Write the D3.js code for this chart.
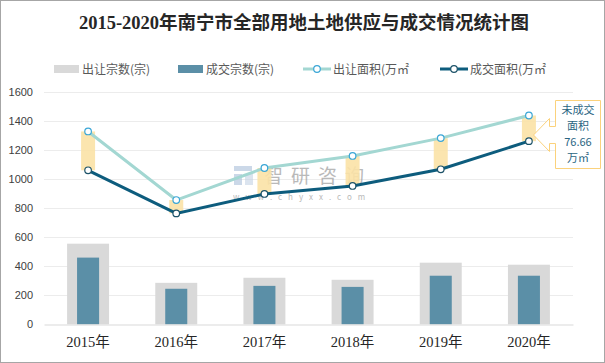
<!DOCTYPE html>
<html>
<head>
<meta charset="utf-8">
<script src="https://cdn.jsdelivr.net/npm/d3@7"></script>
<style>
  html, body { margin: 0; padding: 0; background: #fff; }
  svg { display: block; }
</style>
</head>
<body>
<svg id="chart" width="605" height="363"></svg>
<script>
// data
const years = ['2015年', '2016年', '2017年', '2018年', '2019年', '2020年']
const supplyCount = [556, 286, 321, 307, 425, 411]      // 出让宗数(宗)
const dealCount = [460, 245, 265, 258, 335, 335]        // 成交宗数(宗)
const supplyArea = [1330, 857, 1078, 1161, 1284, 1440]  // 出让面积(万㎡)
const dealArea = [1062, 765, 899, 954, 1069, 1263]      // 成交面积(万㎡)
const yTicks = [0, 200, 400, 600, 800, 1000, 1200, 1400, 1600]
const calloutLines = ['未成交', '面积', '76.66', '万㎡']

const width = 605
const height = 363
const sans = "'Noto Sans CJK SC', 'Liberation Sans', sans-serif"
const serif = "'Liberation Serif', 'DejaVu Serif', 'Noto Sans CJK SC', serif"

const svg = d3.select('#chart')

// outer frame
svg.append('rect')
	.attr('x', 0.5).attr('y', 0.5)
	.attr('width', width - 1).attr('height', height - 1)
	.attr('fill', '#fff')
	.attr('stroke', '#a6a6a6')

svg.append('text')
	.attr('x', 304).attr('y', 29)
	.attr('text-anchor', 'middle')
	.attr('font-family', serif)
	.attr('font-weight', 'bold')
	.attr('font-size', 18.5)
	.attr('fill', '#262626')
	.text('2015-2020年南宁市全部用地土地供应与成交情况统计图')

const x = d3.scaleBand().domain(years).range([44, 573])
const y = d3.scaleLinear().domain([0, 1600]).range([324.3, 92.3])

// grid
svg.append('g')
	.selectAll('line')
	.data(yTicks.slice(1))
	.enter()
	.append('line')
	.attr('x1', 44).attr('x2', 573)
	.attr('y1', d => Math.round(y(d)) + 0.5)
	.attr('y2', d => Math.round(y(d)) + 0.5)
	.attr('stroke', '#ececec')

// y axis labels
const yAxis = svg.append('g')
	.attr('transform', 'translate(44,0)')
	.call(d3.axisLeft(y).tickValues(yTicks).tickFormat(d3.format('d')).tickSize(0).tickPadding(11))
yAxis.select('.domain').remove()
yAxis.selectAll('text')
	.attr('font-family', "'Liberation Sans', sans-serif")
	.attr('font-size', 11)
	.attr('fill', '#404040')

// bars
const bw = x.bandwidth()
svg.append('g')
	.selectAll('rect')
	.data(supplyCount)
	.enter()
	.append('rect')
	.attr('x', (d, i) => x(years[i]) + bw * 0.262)
	.attr('y', d => y(d))
	.attr('width', bw * 0.476)
	.attr('height', d => y(0) - y(d))
	.attr('fill', '#d9d9d9')

svg.append('g')
	.selectAll('rect')
	.data(dealCount)
	.enter()
	.append('rect')
	.attr('x', (d, i) => x(years[i]) + bw * 0.375)
	.attr('y', d => y(d))
	.attr('width', bw * 0.25)
	.attr('height', d => y(0) - y(d))
	.attr('fill', '#5b8fa7')

// x axis
const xAxis = svg.append('g')
	.attr('transform', 'translate(0,324.5)')
	.call(d3.axisBottom(x).tickSize(0).tickPadding(12))
xAxis.select('.domain').attr('stroke', '#d9d9d9')
xAxis.selectAll('text')
	.attr('font-family', serif)
	.attr('font-size', 14.5)
	.attr('fill', '#262626')

// watermark
const wm = svg.append('g').attr('opacity', 0.6)
wm.append('rect').attr('x', 234).attr('y', 166).attr('width', 18).attr('height', 5).attr('fill', '#a9bfd9')
wm.append('rect').attr('x', 234).attr('y', 174).attr('width', 8).attr('height', 11).attr('fill', '#a9bfd9')
wm.append('rect').attr('x', 245).attr('y', 174).attr('width', 8).attr('height', 11).attr('fill', '#c4d3e6')
wm.append('text')
	.attr('x', 264).attr('y', 183)
	.attr('font-family', sans).attr('font-size', 19)
	.attr('fill', '#8c8c8c')
	.attr('letter-spacing', 8)
	.text('智研咨询')
wm.append('text')
	.attr('x', 233).attr('y', 200)
	.attr('font-family', sans).attr('font-size', 8)
	.attr('fill', '#8c8c8c')
	.attr('letter-spacing', 6)
	.text('www.chyxx.com')

// gap boxes between supply and deal area
const cx = d => x(d) + bw / 2
svg.append('g')
	.selectAll('rect')
	.data(years)
	.enter()
	.append('rect')
	.attr('x', d => cx(d) - 7)
	.attr('y', (d, i) => y(supplyArea[i]))
	.attr('width', 14)
	.attr('height', (d, i) => y(dealArea[i]) - y(supplyArea[i]))
	.attr('fill', '#fbe2a6')
	.attr('opacity', 0.9)

const line = d3.line().x((d, i) => cx(years[i])).y(d => y(d))

svg.append('path')
	.datum(supplyArea)
	.attr('d', line)
	.attr('fill', 'none')
	.attr('stroke', '#a3d7d2')
	.attr('stroke-width', 3)

svg.append('path')
	.datum(dealArea)
	.attr('d', line)
	.attr('fill', 'none')
	.attr('stroke', '#0d5c7d')
	.attr('stroke-width', 3)

const drawDots = (vals, stroke) => svg.append('g')
	.selectAll('circle')
	.data(vals)
	.enter()
	.append('circle')
	.attr('cx', (d, i) => cx(years[i]))
	.attr('cy', d => y(d))
	.attr('r', 3.3)
	.attr('fill', '#fff')
	.attr('stroke', stroke)
	.attr('stroke-width', 1.2)

drawDots(supplyArea, '#3aa6d6')
drawDots(dealArea, '#1c5268')

// callout (left arrow callout shape)
const callout = svg.append('g')
callout.append('path')
	.attr('d', 'M555.5,100.5 H600.5 V168.5 H555.5 V143.5 H549.5 V151.5 L533.5,135 L549.5,118.5 V126.5 H555.5 Z')
	.attr('fill', '#fff')
	.attr('stroke', '#fbd27c')
	.attr('stroke-width', 1)
callout.selectAll('text')
	.data(calloutLines)
	.enter()
	.append('text')
	.attr('x', 578)
	.attr('y', (d, i) => 114 + i * 16)
	.attr('text-anchor', 'middle')
	.attr('font-family', sans)
	.attr('font-size', 11)
	.attr('fill', '#2a6582')
	.text(d => d)

// legend
const legend = svg.append('g').attr('font-family', sans).attr('font-size', 12).attr('fill', '#595959')
const lg = [
	{ label: '出让宗数(宗)', type: 'bar', color: '#d9d9d9', x: 54 },
	{ label: '成交宗数(宗)', type: 'bar', color: '#5b8fa7', x: 178 },
	{ label: '出让面积(万㎡', type: 'line', color: '#a3d7d2', dot: '#3aa6d6', x: 303 },
	{ label: '成交面积(万㎡', type: 'line', color: '#0d5c7d', dot: '#1c5268', x: 440 }
]
lg.forEach(d => {
	if (d.type === 'bar') {
		legend.append('rect')
			.attr('x', d.x).attr('y', 65)
			.attr('width', 25).attr('height', 8)
			.attr('fill', d.color)
	} else {
		legend.append('line')
			.attr('x1', d.x).attr('x2', d.x + 28)
			.attr('y1', 69).attr('y2', 69)
			.attr('stroke', d.color).attr('stroke-width', 3)
		legend.append('circle')
			.attr('cx', d.x + 14).attr('cy', 69).attr('r', 3.3)
			.attr('fill', '#fff').attr('stroke', d.dot).attr('stroke-width', 1.2)
	}
	legend.append('text')
		.attr('x', d.x + (d.type === 'bar' ? 28 : 30))
		.attr('y', 73.5)
		.text(d.label)
})
</script>
</body>
</html>
